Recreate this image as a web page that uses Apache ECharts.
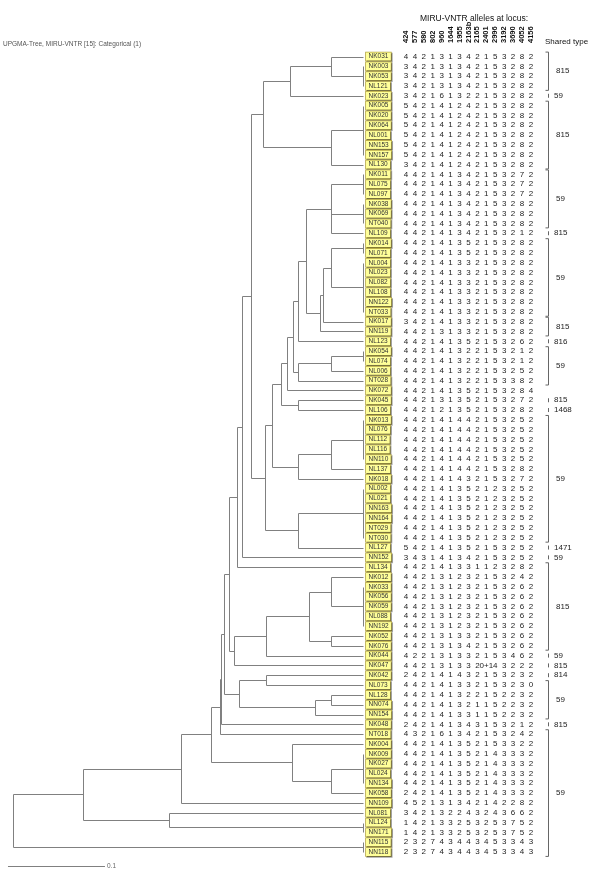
<!DOCTYPE html>
<html><head><meta charset="utf-8">
<script src="https://cdn.jsdelivr.net/npm/echarts@6/dist/echarts.min.js"></script>
<style>html,body{margin:0;padding:0;background:#fff}#c{width:600px;height:875px}</style>
</head><body><div id="c"></div>
<script>
const loci = ['424','577','580','802','960','1644','1955','2163b','2165','2401','2996','3192','3690','4052','4156'];
const isolates = ['NK031','NK003','NK053','NL121','NK023','NK005','NK020','NK064','NL001','NN153','NN157','NL130',
'NK011','NL075','NL097','NK038','NK069','NT040','NL109','NK014','NL071','NL004','NL023','NL082','NL108','NN122','NT033',
'NK017','NN119','NL123','NK054','NL074','NL006','NT028','NK072','NK045','NL106','NK013','NL076','NL112','NL116','NN110',
'NL137','NK018','NL002','NL021','NN163','NN164','NT029','NT030','NL127','NN152','NL134','NK012','NK033','NK056','NK059',
'NL088','NN192','NK052','NK076','NK044','NK047','NK042','NL073','NL128','NN074','NN154','NK048','NT018','NK004','NK009',
'NK027','NL024','NN134','NK058','NN109','NL081','NL124','NN171','NN115','NN118'];
const alleleRows = [
'4 4 2 1 3 1 3 4 2 1 5 3 2 8 2','3 4 2 1 3 1 3 4 2 1 5 3 2 8 2','3 4 2 1 3 1 3 4 2 1 5 3 2 8 2','3 4 2 1 3 1 3 4 2 1 5 3 2 8 2',
'3 4 2 1 6 1 3 2 2 1 5 3 2 8 2','5 4 2 1 4 1 2 4 2 1 5 3 2 8 2','5 4 2 1 4 1 2 4 2 1 5 3 2 8 2','5 4 2 1 4 1 2 4 2 1 5 3 2 8 2',
'5 4 2 1 4 1 2 4 2 1 5 3 2 8 2','5 4 2 1 4 1 2 4 2 1 5 3 2 8 2','5 4 2 1 4 1 2 4 2 1 5 3 2 8 2','3 4 2 1 4 1 2 4 2 1 5 3 2 8 2',
'4 4 2 1 4 1 3 4 2 1 5 3 2 7 2','4 4 2 1 4 1 3 4 2 1 5 3 2 7 2','4 4 2 1 4 1 3 4 2 1 5 3 2 7 2','4 4 2 1 4 1 3 4 2 1 5 3 2 8 2',
'4 4 2 1 4 1 3 4 2 1 5 3 2 8 2','4 4 2 1 4 1 3 4 2 1 5 3 2 8 2','4 4 2 1 4 1 3 4 2 1 5 3 2 1 2','4 4 2 1 4 1 3 5 2 1 5 3 2 8 2',
'4 4 2 1 4 1 3 5 2 1 5 3 2 8 2','4 4 2 1 4 1 3 3 2 1 5 3 2 8 2','4 4 2 1 4 1 3 3 2 1 5 3 2 8 2','4 4 2 1 4 1 3 3 2 1 5 3 2 8 2',
'4 4 2 1 4 1 3 3 2 1 5 3 2 8 2','4 4 2 1 4 1 3 3 2 1 5 3 2 8 2','4 4 2 1 4 1 3 3 2 1 5 3 2 8 2','3 4 2 1 4 1 3 3 2 1 5 3 2 8 2',
'4 4 2 1 3 1 3 3 2 1 5 3 2 8 2','4 4 2 1 4 1 3 5 2 1 5 3 2 6 2','4 4 2 1 4 1 3 2 2 1 5 3 2 1 2','4 4 2 1 4 1 3 2 2 1 5 3 2 1 2',
'4 4 2 1 4 1 3 2 2 1 5 3 2 5 2','4 4 2 1 4 1 3 2 2 1 5 3 3 8 2','4 4 2 1 4 1 3 5 2 1 5 3 2 8 4','4 4 2 1 3 1 3 5 2 1 5 3 2 7 2',
'4 4 2 1 2 1 3 5 2 1 5 3 2 8 2','4 4 2 1 4 1 4 4 2 1 5 3 2 5 2','4 4 2 1 4 1 4 4 2 1 5 3 2 5 2','4 4 2 1 4 1 4 4 2 1 5 3 2 5 2',
'4 4 2 1 4 1 4 4 2 1 5 3 2 5 2','4 4 2 1 4 1 4 4 2 1 5 3 2 5 2','4 4 2 1 4 1 4 4 2 1 5 3 2 8 2','4 4 2 1 4 1 4 3 2 1 5 3 2 7 2',
'4 4 2 1 4 1 3 5 2 1 2 3 2 5 2','4 4 2 1 4 1 3 5 2 1 2 3 2 5 2','4 4 2 1 4 1 3 5 2 1 2 3 2 5 2','4 4 2 1 4 1 3 5 2 1 2 3 2 5 2',
'4 4 2 1 4 1 3 5 2 1 2 3 2 5 2','4 4 2 1 4 1 3 5 2 1 2 3 2 5 2','5 4 2 1 4 1 3 5 2 1 5 3 2 5 2','3 4 3 1 4 1 3 4 2 1 5 3 2 5 2',
'4 4 2 1 4 1 3 3 1 1 2 3 2 8 2','4 4 2 1 3 1 2 3 2 1 5 3 2 4 2','4 4 2 1 3 1 2 3 2 1 5 3 2 6 2','4 4 2 1 3 1 2 3 2 1 5 3 2 6 2',
'4 4 2 1 3 1 2 3 2 1 5 3 2 6 2','4 4 2 1 3 1 2 3 2 1 5 3 2 6 2','4 4 2 1 3 1 2 3 2 1 5 3 2 6 2','4 4 2 1 3 1 3 3 2 1 5 3 2 6 2',
'4 4 2 1 3 1 3 4 2 1 5 3 2 6 2','4 2 2 1 3 1 3 3 2 1 5 3 4 6 2','4 4 2 1 3 1 3 3 2 0+1 4 3 2 2 2','2 4 2 1 4 1 4 3 2 1 5 3 2 3 2',
'4 4 2 1 4 1 3 3 2 1 5 3 2 3 0','4 4 2 1 4 1 3 2 2 1 5 2 2 3 2','4 4 2 1 4 1 3 2 1 1 5 2 2 3 2','4 4 2 1 4 1 3 3 1 1 5 2 2 3 2',
'2 4 2 1 4 1 3 4 3 1 5 3 2 1 2','4 3 2 1 6 1 3 4 2 1 5 3 2 4 2','4 4 2 1 4 1 3 5 2 1 5 3 3 2 2','4 4 2 1 4 1 3 5 2 1 4 3 3 3 2',
'4 4 2 1 4 1 3 5 2 1 4 3 3 3 2','4 4 2 1 4 1 3 5 2 1 4 3 3 3 2','4 4 2 1 4 1 3 5 2 1 4 3 3 3 2','2 4 2 1 4 1 3 5 2 1 4 3 3 3 2',
'4 5 2 1 3 1 3 4 2 1 4 2 2 8 2','3 4 2 1 3 2 2 4 3 2 4 3 6 6 2','1 4 2 1 3 3 2 5 3 2 5 3 7 5 2','1 4 2 1 3 3 2 5 3 2 5 3 7 5 2',
'2 3 2 7 4 3 4 4 3 4 5 3 3 4 3','2 3 2 7 4 3 4 4 3 4 5 3 3 4 3'];
const sharedType  = ['815','59','815','59','815','59','815','816','59','815','1468','59','1471','59','815','59','815','814','59','815','59'];
const sharedFirst = ['NK031','NK023','NK005','NK011','NL109','NK014','NK017','NL123','NK054','NK045','NL106','NK013','NL127','NN152','NL134','NK044','NK047','NK042','NL073','NK048','NT018'];
const sharedLast  = ['NL121','NK023','NL130','NT040','NL109','NT033','NN119','NL123','NT028','NK045','NL106','NT030','NL127','NN152','NK076','NK044','NK047','NK042','NN154','NK048','NN118'];
const scaleBarLength = 0.1;

const alleles = alleleRows.map(r => r.split(' '));
const N = isolates.length;
// UPGMA (categorical distance), joining neighbouring clusters of the displayed leaf order
const D = [];
for (let i = 0; i < N; i++) { D.push([]); for (let j = 0; j < N; j++) { let c = 0; for (let k = 0; k < loci.length; k++) if (alleles[i][k] !== alleles[j][k]) c++; D[i].push(c / loci.length); } }
let act = isolates.map((_, i) => ({ leaves: [i], h: 0, kids: null }));
let M = D.map(r => r.slice());
while (act.length > 1) {
  let bi = 0, bd = Infinity;
  for (let i = 0; i < act.length - 1; i++) if (M[i][i + 1] < bd - 1e-12) { bd = M[i][i + 1]; bi = i; }
  const bj = bi + 1;
  const A = act[bi], B = act[bj];
  const node = { leaves: A.leaves.concat(B.leaves), h: bd / 2, kids: [A, B] };
  const na = A.leaves.length, nb = B.leaves.length;
  for (let k = 0; k < act.length; k++) { if (k === bi || k === bj) continue; const v = (na * M[bi][k] + nb * M[bj][k]) / (na + nb); M[bi][k] = v; M[k][bi] = v; }
  act[bi] = node; act.splice(bj, 1); M.splice(bj, 1); M.forEach(r => r.splice(bj, 1));
}
const root = act[0];
function finalize(node) {
  if (!node.kids) { node.y = node.leaves[0]; return; }
  const kids = [];
  node.kids.forEach(k => { finalize(k); if (k.kids && Math.abs(k.h - node.h) < 1e-9) kids.push(...k.kids); else kids.push(k); });
  node.kids = kids;
  const ys = kids.map(k => k.y);
  node.y = (Math.min(...ys) + Math.max(...ys)) / 2;
}
finalize(root);
const segments = [];
function collect(node) {
  if (!node.kids) return;
  const ys = node.kids.map(k => k.y);
  segments.push([node.h, Math.min(...ys), node.h, Math.max(...ys)]);
  node.kids.forEach(k => { if (node.h > k.h) segments.push([k.h, k.y, node.h, k.y]); collect(k); });
}
collect(root);

const FONT = '"Liberation Sans", Arial, sans-serif';
const cells = [];
alleles.forEach((row, r) => row.forEach((v, c) => cells.push([c, r, v])));
const idx = n => isolates.indexOf(n);
const groups = sharedType.map((t, i) => [idx(sharedFirst[i]), idx(sharedLast[i]), t]);

const chart = echarts.init(document.getElementById('c'));
const yA = g => ({ gridIndex: g, type: 'value', min: 0, max: 81, inverse: true, show: false });
chart.setOption({
  animation: false,
  grid: [
    { left: 4.1, width: 358.9, top: 56.5, height: 795.5 },
    { left: 401.5, width: 133.9, top: 56.5, height: 795.5 },
    { left: 548, width: 50, top: 56.5, height: 795.5 }
  ],
  xAxis: [
    { gridIndex: 0, type: 'value', min: 0, max: 0.37, inverse: true, show: false },
    { gridIndex: 1, type: 'category', data: loci, position: 'top', axisLine: { show: false }, axisTick: { show: false }, splitLine: { show: false },
      axisLabel: { interval: 0, rotate: 90, margin: 13.5, fontSize: 7.5, fontWeight: 'bold', color: '#111', fontFamily: FONT } },
    { gridIndex: 2, type: 'value', min: 0, max: 1, show: false }
  ],
  yAxis: [yA(0), yA(1), yA(2)],
  graphic: [
    { type: 'text', left: 420, top: 14, style: { text: 'MIRU-VNTR alleles at locus:', font: '8.5px ' + FONT, fill: '#111' } },
    { type: 'text', left: 545, top: 38, style: { text: 'Shared type', font: '8px ' + FONT, fill: '#111' } },
    { type: 'text', left: 3, top: 40.5, style: { text: 'UPGMA-Tree, MIRU-VNTR [15]: Categorical (1)', font: '6.5px ' + FONT, fill: '#555' } }
  ],
  series: [
    { type: 'custom', xAxisIndex: 0, yAxisIndex: 0, data: segments, silent: true,
      renderItem: (p, api) => {
        const a = api.coord([api.value(0), api.value(1)]), b = api.coord([api.value(2), api.value(3)]);
        return { type: 'line', shape: { x1: Math.round(a[0]) + 0.5, y1: Math.round(a[1]) + 0.5, x2: Math.round(b[0]) + 0.5, y2: Math.round(b[1]) + 0.5 }, style: { stroke: '#808080', lineWidth: 1 } };
      } },
    { type: 'custom', xAxisIndex: 0, yAxisIndex: 0, data: isolates.map((_, i) => [0, i]), silent: true,
      renderItem: (p, api) => {
        const a = api.coord([0, api.value(1)]);
        return { type: 'text', x: a[0] + 3, y: a[1], style: { text: isolates[p.dataIndex], font: '6.5px ' + FONT, fill: '#333', align: 'left', verticalAlign: 'middle',
          backgroundColor: '#ffff99', borderColor: '#b5a642', borderWidth: 0.8, padding: [1, 2.5, 0, 2.5], shadowColor: 'rgba(0,0,0,0.35)', shadowOffsetX: 1, shadowOffsetY: 1 } };
      } },
    { type: 'custom', xAxisIndex: 1, yAxisIndex: 1, data: cells, silent: true,
      renderItem: (p, api) => {
        const c = cells[p.dataIndex];
        const a = api.coord([c[0], c[1]]);
        return { type: 'text', x: a[0], y: a[1], style: { text: c[2], font: '8px ' + FONT, fill: '#222', align: 'center', verticalAlign: 'middle' } };
      } },
    { type: 'custom', xAxisIndex: 2, yAxisIndex: 2, data: groups.map(g => [g[0], g[1]]), silent: true,
      renderItem: (p, api) => {
        const g = groups[p.dataIndex];
        const single = g[0] === g[1];
        const top = api.coord([0, g[0] - 0.45]), bot = api.coord([0, g[1] + 0.45]), mid = api.coord([0, (g[0] + g[1]) / 2]);
        const x = Math.round(top[0]) + 0.5;
        const children = [];
        if (single) {
          children.push({ type: 'line', shape: { x1: x, y1: mid[1] - 2, x2: x, y2: mid[1] + 2 }, style: { stroke: '#666', lineWidth: 1 } });
        } else {
          children.push({ type: 'polyline', shape: { points: [[x - 3, top[1]], [x, top[1]], [x, bot[1]], [x - 3, bot[1]]] }, style: { stroke: '#666', lineWidth: 1, fill: null } });
        }
        children.push({ type: 'text', x: x + (single ? 5.5 : 7.5), y: mid[1], style: { text: g[2], font: '8px ' + FONT, fill: '#222', verticalAlign: 'middle', align: 'left' } });
        return { type: 'group', children };
      } },
    { type: 'custom', xAxisIndex: 0, yAxisIndex: 0, data: [[0.366, 82.4]], silent: true,
      renderItem: (p, api) => {
        const a = api.coord([api.value(0), api.value(1)]), b = api.coord([api.value(0) - scaleBarLength, api.value(1)]);
        const y = Math.round(a[1]) + 0.5;
        return { type: 'group', children: [
          { type: 'line', shape: { x1: a[0], y1: y, x2: b[0], y2: y }, style: { stroke: '#808080', lineWidth: 1 } },
          { type: 'text', x: b[0] + 2, y: y, style: { text: '0.1', font: '6.5px ' + FONT, fill: '#666', verticalAlign: 'middle' } }
        ] };
      } }
  ]
});
</script></body></html>
